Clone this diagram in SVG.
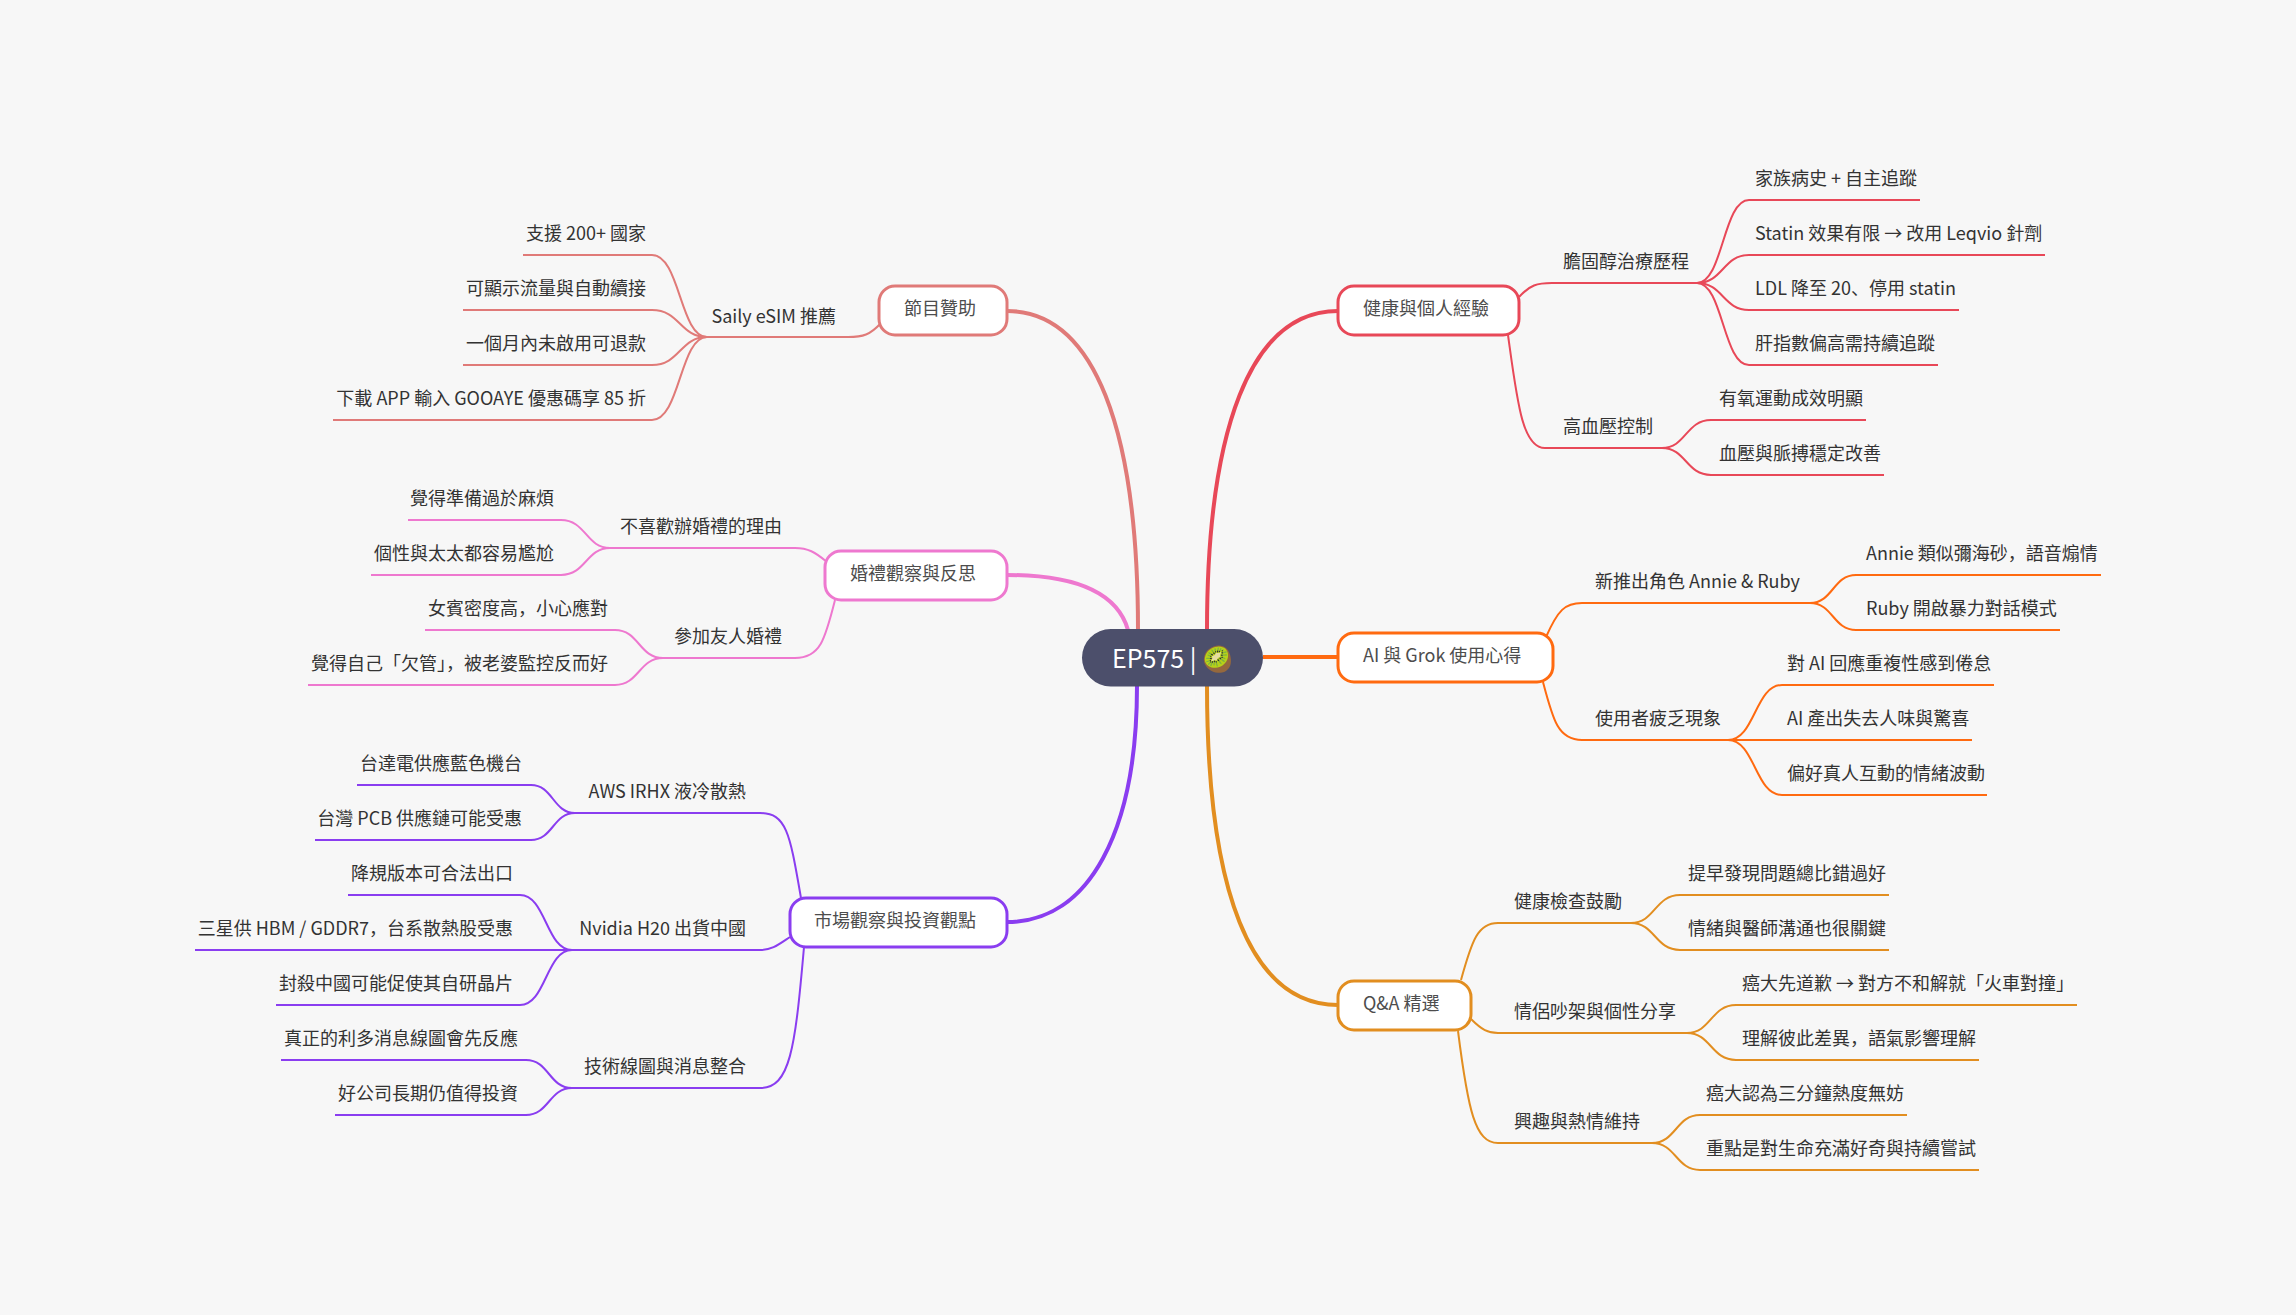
<svg xmlns="http://www.w3.org/2000/svg" width="2296" height="1315" viewBox="0 0 2296 1315">
<style>
text{font-family:"Noto Sans CJK SC","Noto Sans CJK TC","Noto Sans",sans-serif;font-size:18px;fill:#333}
.e{text-anchor:end}
.t text{fill:#4d4d4d}
.t rect{fill:#fff;stroke-width:3}
#connectors path{fill:none;stroke-width:2}
#connectors path.m{stroke-width:4}
.c1{stroke:#e84858}.c2{stroke:#ff6a10}.c3{stroke:#e28e20}.c4{stroke:#e07a78}.c5{stroke:#ee78cf}.c6{stroke:#8a3df0}
</style>
<rect width="2296" height="1315" fill="#f7f7f7"/>
<g id="connectors">
<path class="m c1" d="M1207 630C1207 430 1250 311 1338 311"/>
<path class="m c2" d="M1263 657H1338"/>
<path class="m c3" d="M1207 686C1207 890 1250 1005 1338 1005"/>
<path class="m c4" d="M1138 630C1138 430 1095 311 1007 311"/>
<path class="m c5" d="M1128 630C1115 585 1060 575 1007 575"/>
<path class="m c6" d="M1137 686C1137 830 1090 922 1007 922"/>

<path class="c1" d="M1519 297C1530 285 1537 283 1552 283H1697"/>
<path class="c1" d="M1508 335C1517 400 1522 448 1545 448H1662"/>
<path class="c1" d="M1697 283C1723 283 1723 200 1749 200H1920"/>
<path class="c1" d="M1697 283C1723 283 1723 255 1749 255H2045"/>
<path class="c1" d="M1697 283C1723 283 1723 310 1749 310H1959"/>
<path class="c1" d="M1697 283C1723 283 1723 365 1749 365H1938"/>
<path class="c1" d="M1662 448C1686 448 1686 420 1711 420H1866"/>
<path class="c1" d="M1662 448C1686 448 1686 475 1711 475H1884"/>

<path class="c2" d="M1546 637C1558 610 1565 603 1582 603H1810"/>
<path class="c2" d="M1543 682C1553 720 1558 740 1582 740H1728"/>
<path class="c2" d="M1810 603C1833 603 1833 575 1856 575H2101"/>
<path class="c2" d="M1810 603C1833 603 1833 630 1856 630H2060"/>
<path class="c2" d="M1728 740C1755 740 1755 685 1782 685H1994"/>
<path class="c2" d="M1728 740H1972"/>
<path class="c2" d="M1728 740C1755 740 1755 795 1782 795H1987"/>

<path class="c3" d="M1461 980C1472 940 1478 923 1498 923H1631"/>
<path class="c3" d="M1471 1019C1482 1030 1488 1033 1498 1033H1687"/>
<path class="c3" d="M1458 1031C1468 1110 1475 1143 1498 1143H1652"/>
<path class="c3" d="M1631 923C1655 923 1655 895 1680 895H1889"/>
<path class="c3" d="M1631 923C1655 923 1655 950 1680 950H1889"/>
<path class="c3" d="M1687 1033C1711 1033 1711 1005 1736 1005H2077"/>
<path class="c3" d="M1687 1033C1711 1033 1711 1060 1736 1060H1979"/>
<path class="c3" d="M1652 1143C1676 1143 1676 1115 1700 1115H1907"/>
<path class="c3" d="M1652 1143C1676 1143 1676 1170 1700 1170H1979"/>

<path class="c4" d="M881 323C870 335 863 337 848 337H707"/>
<path class="c4" d="M707 337C680 337 680 255 652 255H523"/>
<path class="c4" d="M707 337C680 337 680 310 652 310H463"/>
<path class="c4" d="M707 337C680 337 680 365 652 365H463"/>
<path class="c4" d="M707 337C680 337 680 420 652 420H333"/>

<path class="c5" d="M827 562C815 552 808 548 795 548H610"/>
<path class="c5" d="M835 600C825 640 820 658 795 658H663"/>
<path class="c5" d="M610 548C586 548 586 520 561 520H408"/>
<path class="c5" d="M610 548C586 548 586 575 561 575H371"/>
<path class="c5" d="M663 658C639 658 639 630 615 630H425"/>
<path class="c5" d="M663 658C639 658 639 685 615 685H308"/>

<path class="c6" d="M801 898C790 835 787 813 760 813H575"/>
<path class="c6" d="M790 937C778 945 772 950 760 950H572"/>
<path class="c6" d="M804 947C795 1050 790 1088 760 1088H572"/>
<path class="c6" d="M575 813C553 813 553 785 531 785H357"/>
<path class="c6" d="M575 813C553 813 553 840 531 840H315"/>
<path class="c6" d="M572 950C546 950 546 895 520 895H348"/>
<path class="c6" d="M572 950H195"/>
<path class="c6" d="M572 950C546 950 546 1005 520 1005H276"/>
<path class="c6" d="M572 1088C549 1088 549 1060 526 1060H281"/>
<path class="c6" d="M572 1088C549 1088 549 1115 526 1115H335"/>
</g>

<g id="root"><rect x="1082" y="629" width="181" height="57.500" rx="28.700" fill="#4c4f6b"/>
<text x="1112" y="668" style="font-size:25px;fill:#fff">EP575 | 🥝</text></g>

<g id="n1" class="t"><rect x="1338" y="286" width="181" height="49" rx="16" class="c1"/><text x="1363" y="315">健康與個人經驗</text></g>
<g id="n2" class="t"><rect x="1338" y="633" width="215" height="49" rx="16" class="c2"/><text x="1363" y="662">AI 與 Grok 使用心得</text></g>
<g id="n3" class="t"><rect x="1338" y="981" width="133" height="49" rx="16" class="c3"/><text x="1363" y="1010">Q&amp;A 精選</text></g>
<g id="n4" class="t"><rect x="879" y="286" width="128" height="49" rx="16" class="c4"/><text x="904" y="315">節目贊助</text></g>
<g id="n5" class="t"><rect x="825" y="551" width="182" height="49" rx="16" class="c5"/><text x="850" y="580">婚禮觀察與反思</text></g>
<g id="n6" class="t"><rect x="790" y="898" width="217" height="49" rx="16" class="c6"/><text x="814" y="927">市場觀察與投資觀點</text></g>

<g id="s11"><text x="1563" y="268">膽固醇治療歷程</text></g>
<g id="s12"><text x="1563" y="433">高血壓控制</text></g>
<g id="s21"><text x="1595" y="588">新推出角色 Annie &amp; Ruby</text></g>
<g id="s22"><text x="1595" y="725">使用者疲乏現象</text></g>
<g id="s31"><text x="1514" y="908">健康檢查鼓勵</text></g>
<g id="s32"><text x="1514" y="1018">情侶吵架與個性分享</text></g>
<g id="s33"><text x="1514" y="1128">興趣與熱情維持</text></g>
<g id="s41"><text class="e" x="836" y="323">Saily eSIM 推薦</text></g>
<g id="s51"><text class="e" x="782" y="533">不喜歡辦婚禮的理由</text></g>
<g id="s52"><text class="e" x="782" y="643">參加友人婚禮</text></g>
<g id="s61"><text class="e" x="746" y="798">AWS IRHX 液冷散熱</text></g>
<g id="s62"><text class="e" x="746" y="935">Nvidia H20 出貨中國</text></g>
<g id="s63"><text class="e" x="746" y="1073">技術線圖與消息整合</text></g>

<g id="l111"><text x="1755" y="185">家族病史 + 自主追蹤</text></g>
<g id="l112"><text x="1755" y="240">Statin 效果有限 → 改用 Leqvio 針劑</text></g>
<g id="l113"><text x="1755" y="295">LDL 降至 20、停用 statin</text></g>
<g id="l114"><text x="1755" y="350">肝指數偏高需持續追蹤</text></g>
<g id="l121"><text x="1719" y="405">有氧運動成效明顯</text></g>
<g id="l122"><text x="1719" y="460">血壓與脈搏穩定改善</text></g>
<g id="l211"><text x="1866" y="560">Annie 類似彌海砂，語音煽情</text></g>
<g id="l212"><text x="1866" y="615">Ruby 開啟暴力對話模式</text></g>
<g id="l221"><text x="1787" y="670">對 AI 回應重複性感到倦怠</text></g>
<g id="l222"><text x="1787" y="725">AI 產出失去人味與驚喜</text></g>
<g id="l223"><text x="1787" y="780">偏好真人互動的情緒波動</text></g>
<g id="l311"><text x="1688" y="880">提早發現問題總比錯過好</text></g>
<g id="l312"><text x="1688" y="935">情緒與醫師溝通也很關鍵</text></g>
<g id="l321"><text x="1742" y="990">癌大先道歉 → 對方不和解就「火車對撞」</text></g>
<g id="l322"><text x="1742" y="1045">理解彼此差異，語氣影響理解</text></g>
<g id="l331"><text x="1706" y="1100">癌大認為三分鐘熱度無妨</text></g>
<g id="l332"><text x="1706" y="1155">重點是對生命充滿好奇與持續嘗試</text></g>
<g id="l411"><text class="e" x="646" y="240">支援 200+ 國家</text></g>
<g id="l412"><text class="e" x="646" y="295">可顯示流量與自動續接</text></g>
<g id="l413"><text class="e" x="646" y="350">一個月內未啟用可退款</text></g>
<g id="l414"><text class="e" x="646" y="405">下載 APP 輸入 GOOAYE 優惠碼享 85 折</text></g>
<g id="l511"><text class="e" x="554" y="505">覺得準備過於麻煩</text></g>
<g id="l512"><text class="e" x="554" y="560">個性與太太都容易尷尬</text></g>
<g id="l521"><text class="e" x="608" y="615">女賓密度高，小心應對</text></g>
<g id="l522"><text class="e" x="608" y="670">覺得自己「欠管」，被老婆監控反而好</text></g>
<g id="l611"><text class="e" x="522" y="770">台達電供應藍色機台</text></g>
<g id="l612"><text class="e" x="522" y="825">台灣 PCB 供應鏈可能受惠</text></g>
<g id="l621"><text class="e" x="513" y="880">降規版本可合法出口</text></g>
<g id="l622"><text class="e" x="513" y="935">三星供 HBM / GDDR7，台系散熱股受惠</text></g>
<g id="l623"><text class="e" x="513" y="990">封殺中國可能促使其自研晶片</text></g>
<g id="l631"><text class="e" x="518" y="1045">真正的利多消息線圖會先反應</text></g>
<g id="l632"><text class="e" x="518" y="1100">好公司長期仍值得投資</text></g>
</svg>
